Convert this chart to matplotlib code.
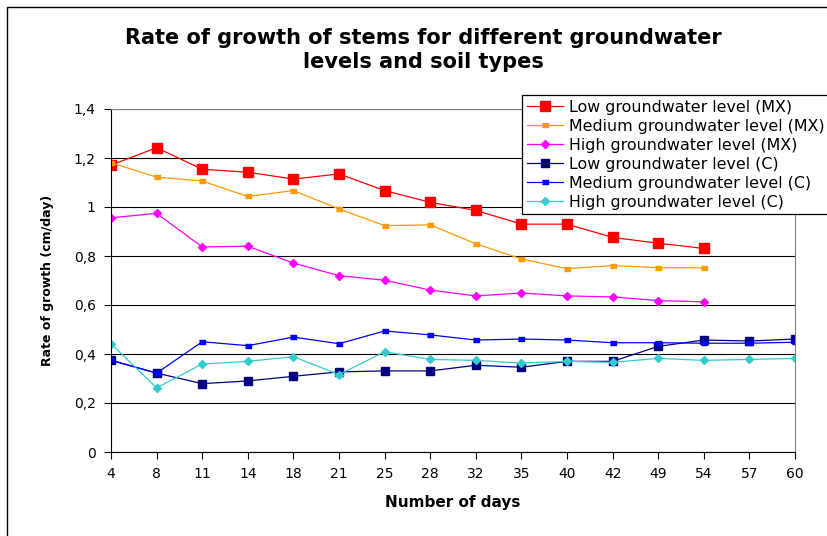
import matplotlib.pyplot as plt
from matplotlib.patches import Rectangle
from matplotlib.ticker import FuncFormatter

# data
days = ['4', '8', '11', '14', '18', '21', '25', '28', '32', '35', '40', '42', '49', '54', '57', '60']

low_mx = [1.171, 1.242, 1.154, 1.142, 1.114, 1.135, 1.067, 1.019, 0.986, 0.930, 0.930, 0.876, 0.852, 0.831]
medium_mx = [1.181, 1.122, 1.106, 1.043, 1.067, 0.992, 0.924, 0.927, 0.850, 0.788, 0.748, 0.761, 0.752, 0.752]
high_mx = [0.956, 0.974, 0.837, 0.840, 0.771, 0.720, 0.701, 0.661, 0.637, 0.649, 0.637, 0.633, 0.618, 0.613]
low_c = [0.374, 0.322, 0.279, 0.290, 0.309, 0.327, 0.331, 0.331, 0.354, 0.346, 0.370, 0.370, 0.431, 0.457, 0.453, 0.461]
medium_c = [0.375, 0.322, 0.450, 0.434, 0.469, 0.442, 0.494, 0.478, 0.457, 0.461, 0.457, 0.446, 0.446, 0.444, 0.444, 0.448]
high_c = [0.442, 0.262, 0.359, 0.370, 0.389, 0.316, 0.409, 0.378, 0.374, 0.363, 0.370, 0.366, 0.382, 0.374, 0.378, 0.382]

labels = ['Low groundwater level (MX)', 'Medium groundwater level (MX)', 'High groundwater level (MX)',
          'Low groundwater level (C)', 'Medium groundwater level (C)', 'High groundwater level (C)']

plt.rcParams['font.family'] = ['DejaVu Sans']

fig = plt.figure(figsize=(8.28, 5.36), dpi=100)
ax = fig.add_axes([111 / 828, 1 - 452 / 536, (795 - 111) / 828, (452 - 109) / 536])

# chart area frame
fig.patches.append(Rectangle((7 / 828, -0.1), 1.2, 1.1 - 7 / 536, transform=fig.transFigure,
                             fill=False, edgecolor='black', linewidth=1.0))

bar_marker = [(-1, -0.55), (1, -0.55), (1, 0.55), (-1, 0.55)]
x_mx = list(range(len(low_mx)))
x_c = list(range(len(low_c)))

ax.plot(x_mx, low_mx, color='#FF0000', lw=0.9, marker='s', ms=6.5, label=labels[0])
ax.plot(x_mx, medium_mx, color='#FF9900', lw=0.9, marker=bar_marker, ms=5, label=labels[1])
ax.plot(x_mx, high_mx, color='#FF00FF', lw=0.9, marker='D', ms=4.5, label=labels[2])
ax.plot(x_c, low_c, color='#000080', lw=0.9, marker='s', ms=6, label=labels[3])
ax.plot(x_c, medium_c, color='#0000FF', lw=0.9, marker=bar_marker, ms=5, label=labels[4])
ax.plot(x_c, high_c, color='#33CCCC', lw=0.9, marker='D', ms=4.5, label=labels[5])

ax.set_xlim(0, len(days) - 1)
ax.set_ylim(0, 1.4)
ax.set_xticks(x_c)
ax.set_xticklabels(days)
ax.set_yticks([0, 0.2, 0.4, 0.6, 0.8, 1.0, 1.2, 1.4])
ax.yaxis.set_major_formatter(FuncFormatter(lambda v, p: '0' if v == 0 else ('1' if abs(v - 1) < 1e-9 else f'{v:.1f}'.replace('.', ','))))
ax.tick_params(axis='both', labelsize=10, length=5, width=0.8, direction='out', pad=6)
ax.grid(axis='y', color='black', linewidth=0.8)
ax.set_axisbelow(True)

ax.spines['left'].set_color('black')
ax.spines['bottom'].set_color('black')
ax.spines['top'].set_color('#808080')
ax.spines['right'].set_color('#808080')

ax.set_xlabel('Number of days', fontsize=11, fontweight='bold', labelpad=10)
ax.set_ylabel('Rate of growth (cm/day)', fontsize=9, fontweight='bold', labelpad=14)

fig.text(0.511, 1 - 50 / 536, 'Rate of growth of stems for different groundwater\nlevels and soil types',
         ha='center', va='center', fontsize=15, fontweight='bold', linespacing=1.3)

leg = fig.legend(loc='upper left', bbox_to_anchor=(522 / 828, 1 - 95 / 536), fontsize=11.4,
                 frameon=True, fancybox=False, edgecolor='black', framealpha=1,
                 labelspacing=0.25, handlelength=2.3, borderpad=0.3, handletextpad=0.35,
                 borderaxespad=0)
leg.get_frame().set_linewidth(0.9)

plt.savefig('out.png', dpi=100)
